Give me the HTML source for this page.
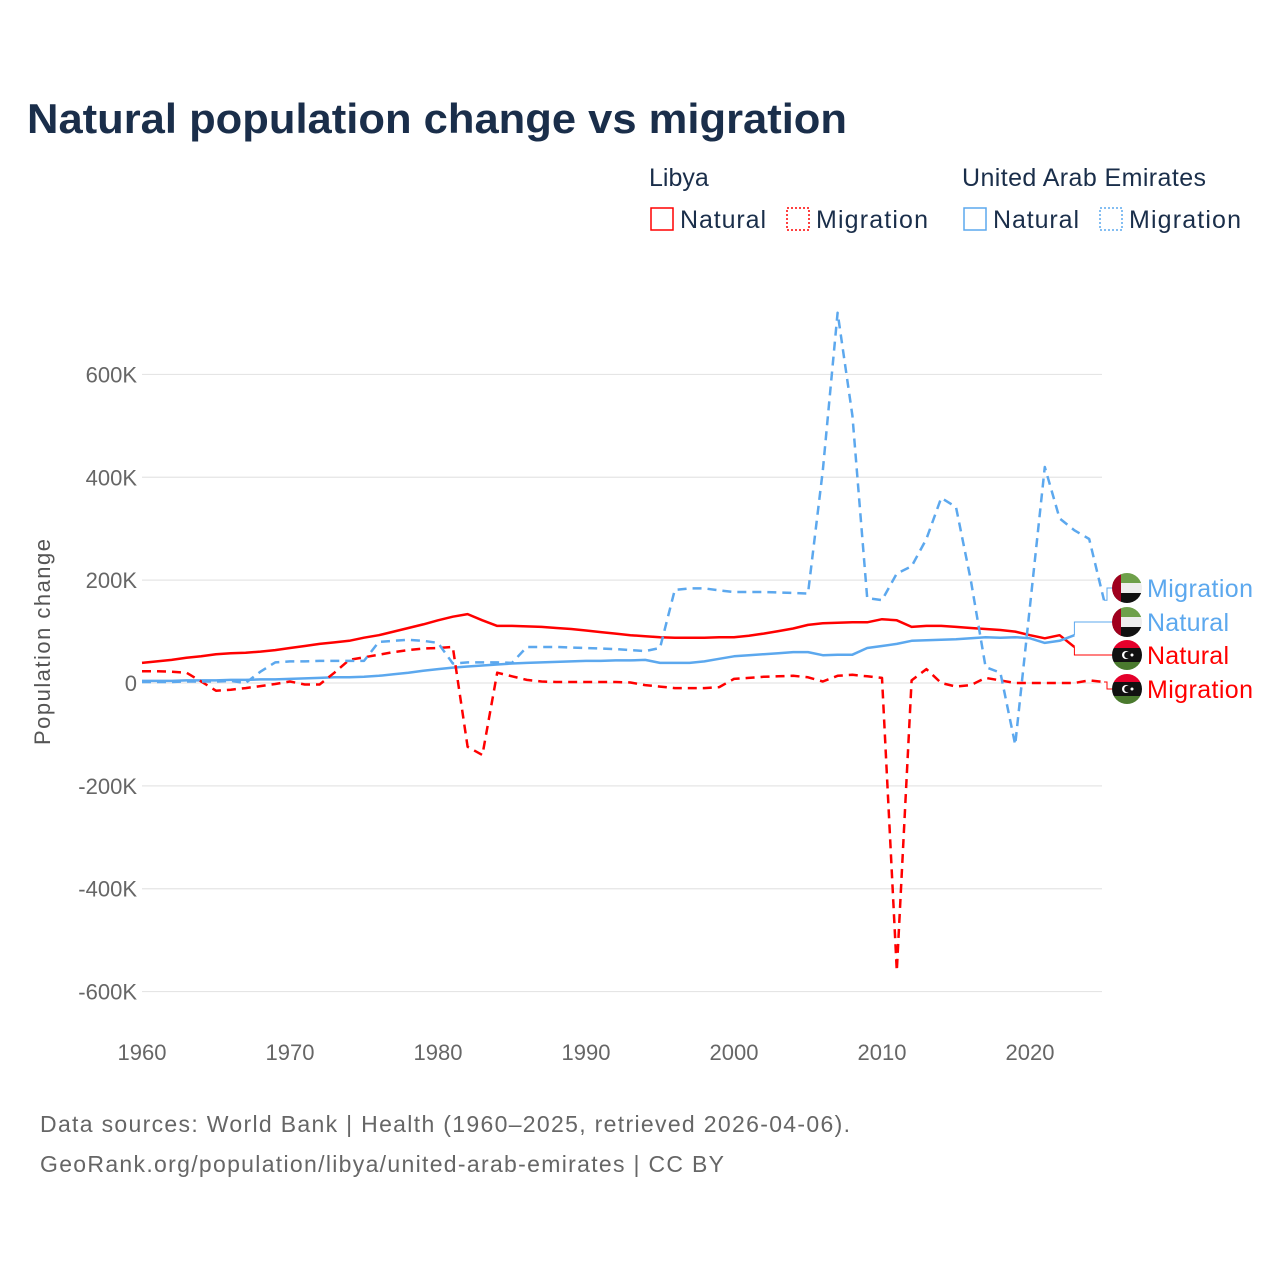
<!DOCTYPE html>
<html><head><meta charset="utf-8">
<style>
body{margin:0;background:#fff;}
svg{display:block;font-family:"Liberation Sans",sans-serif;}
</style></head>
<body>
<svg id="chart" width="1280" height="1280" viewBox="0 0 1280 1280">
<text x="27" y="133" font-size="42" font-weight="bold" fill="#1a2e4a" textLength="820" lengthAdjust="spacingAndGlyphs">Natural population change vs migration</text>
<g font-size="25" fill="#1a2e4a">
<text x="649" y="186" fill="#1a2e4a">Libya</text>
<rect x="651" y="208" width="22" height="22" fill="none" stroke="#f00" stroke-width="1.5"/>
<text x="680" y="228" fill="#1a2e4a" textLength="86">Natural</text>
<rect x="787" y="208" width="22" height="22" fill="none" stroke="#f00" stroke-width="1.5" stroke-dasharray="2,2"/>
<text x="816" y="228" fill="#1a2e4a" textLength="112">Migration</text>
<text x="962" y="186" fill="#1a2e4a" textLength="244">United Arab Emirates</text>
<rect x="964" y="208" width="22" height="22" fill="none" stroke="#5ca8ee" stroke-width="1.5"/>
<text x="993" y="228" fill="#1a2e4a" textLength="86">Natural</text>
<rect x="1100" y="208" width="22" height="22" fill="none" stroke="#5ca8ee" stroke-width="1.5" stroke-dasharray="2,2"/>
<text x="1129" y="228" fill="#1a2e4a" textLength="112">Migration</text>
</g>
<g id="grid"></g>
<g id="series"></g>
<g id="labels"></g>
<text transform="translate(50,642) rotate(-90)" text-anchor="middle" font-size="22" fill="#555" textLength="206">Population change</text>
<text x="40" y="1132" font-size="23" fill="#666" textLength="810">Data sources: World Bank | Health (1960–2025, retrieved 2026-04-06).</text>
<text x="40" y="1172" font-size="23" fill="#666" textLength="684">GeoRank.org/population/libya/united-arab-emirates | CC BY</text>
</svg>
<script>
const years = [];
for (let y = 1960; y <= 2025; y++) years.push(y);
const yTicks = [600, 400, 200, 0, -200, -400, -600];
const yTickLabels = ["600K","400K","200K","0","-200K","-400K","-600K"];
const xTicks = [1960,1970,1980,1990,2000,2010,2020];
const libyaNatural = [39,42,45,49,52,56,58,59,61,64, 68,72,76,79,82,88,93,100,107,114, 122,129,134,122,111,111,110,109,107,105, 102,99,96,93,91,89,88,88,88,89, 89,92,96,101,106,113,116,117,118,118, 124,122,109,111,111,109,107,105,103,100, 93,87,93,70,null,null];
const libyaMigration = [23,23,22,20,3,-15,-13,-10,-6,-2, 3,-3,-3,20,45,50,55,60,64,67, 68,70,-124,-140,20,13,6,3,2,2, 2,2,2,1,-4,-7,-10,-10,-10,-8, 8,10,12,13,14,11,3,14,16,13, 10,-560,5,27,0,-7,-4,10,5,0, 0,0,0,0,5,2];
const uaeNatural = [4,4,4,5,5,5,6,6,7,7, 8,9,10,11,11,12,14,17,20,24, 27,30,32,34,36,38,39,40,41,42, 43,43,44,44,45,39,39,39,42,47, 52,54,56,58,60,60,54,55,55,68, 72,76,82,83,84,85,87,89,88,89, 87,78,82,93,null,null];
const uaeMigration = [2,2,2,3,3,3,4,0,22,40, 42,42,43,43,43,43,80,82,84,82, 78,38,40,40,40,39,70,70,70,69, 68,67,66,64,62,68,181,184,184,180, 177,177,177,176,175,174,413,720,520,165, 161,213,227,280,360,342,200,31,20,-120, 150,420,320,297,280,161];

const X0=142, X1=1104;
const xScale = yr => X0 + (yr-1960)*(X1-X0)/65;
const yScale = v => 683 - v*0.5143;
const NS="http://www.w3.org/2000/svg";
function mk(tag, attrs, parent){const e=document.createElementNS(NS,tag);for(const k in attrs)e.setAttribute(k,attrs[k]);parent.appendChild(e);return e;}
const grid=document.getElementById('grid');
yTicks.forEach((t,i)=>{
  const l=mk('line',{x1:X0,x2:1102,y1:yScale(t),y2:yScale(t),stroke:'#e5e5e5','stroke-width':1.2},grid);
  
  
  const tx=mk('text',{x:137,y:yScale(t)+8,'text-anchor':'end','font-size':22,fill:'#666'},grid);
  tx.textContent=yTickLabels[i];
  
  
});
xTicks.forEach(t=>{
  const tx=mk('text',{x:xScale(t),y:1060,'text-anchor':'middle','font-size':22,fill:'#666'},grid);
  tx.textContent=t;
  
  
});
const S=document.getElementById('series');
function line(data,color,dash,name){
  let d='';let started=false;
  data.forEach((v,i)=>{if(v===null)return;d+=(started?'L':'M')+xScale(years[i]).toFixed(1)+','+yScale(v).toFixed(1);started=true;});
  const p=mk('path',{d:d,fill:'none',stroke:color,'stroke-width':2.5,'stroke-linejoin':'round'},S);
  if(dash)p.setAttribute('stroke-dasharray','9,6');
  
  
  let li=data.length-1;while(data[li]===null)li--;
  return {x:xScale(years[li]),y:yScale(data[li])};
}
const eLN=line(libyaNatural,'#f00',false,'line-libya-natural');
const eUN=line(uaeNatural,'#5ca8ee',false,'line-uae-natural');
const eLM=line(libyaMigration,'#f00',true,'line-libya-migration');
const eUM=line(uaeMigration,'#5ca8ee',true,'line-uae-migration');
const L=document.getElementById('labels');
const labs=[[eUM,588,'#5ca8ee','Migration','uae'],[eUN,622,'#5ca8ee','Natural','uae'],[eLN,655,'#f00','Natural','libya'],[eLM,689,'#f00','Migration','libya']];
labs.forEach((a,i)=>{
  const [e,ly,c,t,cty]=a;
  const cx = e.x < 1090 ? e.x : e.x + 3;
  const p=mk('path',{d:`M${e.x},${e.y}H${cx}V${ly}H1112`,fill:'none',stroke:c,'stroke-width':1},L);
  
  
  const g=mk('g',{},L);
  
  
  const id='clip'+i;
  const cp=mk('clipPath',{id:id},g);mk('circle',{cx:1127,cy:ly,r:15},cp);
  const gg=mk('g',{'clip-path':`url(#${id})`},g);
  if(cty==='uae'){
    mk('rect',{x:1112,y:ly-15,width:30,height:10,fill:'#6ea04a'},gg);
    mk('rect',{x:1112,y:ly-5,width:30,height:10,fill:'#eee'},gg);
    mk('rect',{x:1112,y:ly+5,width:30,height:10,fill:'#111'},gg);
    mk('rect',{x:1112,y:ly-15,width:9,height:30,fill:'#a0001e'},gg);
  } else {
    mk('rect',{x:1112,y:ly-15,width:30,height:8,fill:'#e4002b'},gg);
    mk('rect',{x:1112,y:ly-7,width:30,height:14,fill:'#111'},gg);
    mk('rect',{x:1112,y:ly+7,width:30,height:8,fill:'#4a7a2e'},gg);
    mk('circle',{cx:1126,cy:ly,r:4,fill:'#fff'},gg);
    mk('circle',{cx:1127.5,cy:ly,r:3.3,fill:'#111'},gg);
    mk('circle',{cx:1132,cy:ly,r:1.5,fill:'#fff'},gg);
  }
  const tx=mk('text',{x:1147,y:ly+9,'font-size':25,fill:c},L);
  tx.textContent=t;
  tx.setAttribute('textLength', t==='Migration' ? 106 : 82);
  
  
});
</script>
</body></html>
